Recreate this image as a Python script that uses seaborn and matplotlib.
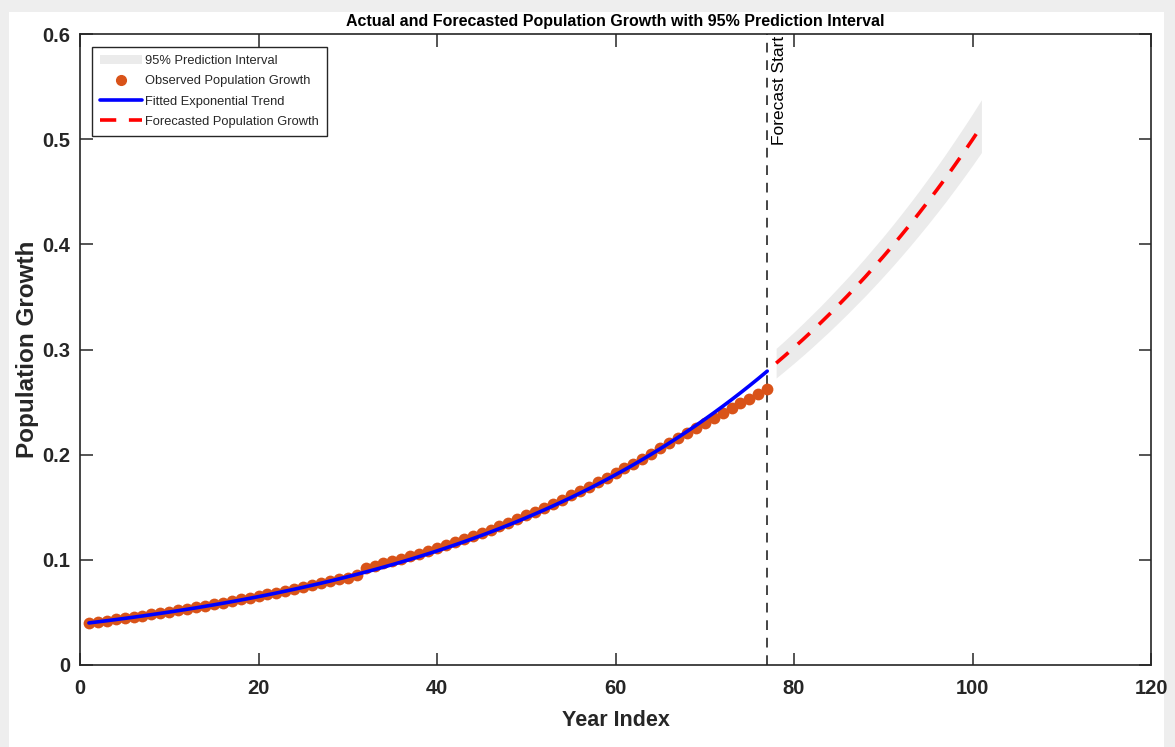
import numpy as np
import pandas as pd
import matplotlib
matplotlib.use("Agg")
import matplotlib.pyplot as plt
from matplotlib.patches import Patch, Rectangle
from matplotlib.lines import Line2D
import seaborn as sns

# ---------------- data ----------------
year_obs = list(range(1, 78))
observed = [0.0402, 0.0412, 0.0423, 0.0434, 0.0446, 0.0457, 0.0469, 0.0482, 0.0494, 0.0507,
            0.0520, 0.0534, 0.0548, 0.0562, 0.0577, 0.0592, 0.0607, 0.0623, 0.0639, 0.0655,
            0.0671, 0.0688, 0.0705, 0.0722, 0.0740, 0.0758, 0.0776, 0.0803, 0.0816, 0.0830,
            0.0852, 0.0924, 0.0945, 0.0966, 0.0989, 0.1011, 0.1035, 0.1059, 0.1084, 0.1110,
            0.1137, 0.1165, 0.1194, 0.1224, 0.1255, 0.1287, 0.1319, 0.1353, 0.1387, 0.1423,
            0.1459, 0.1496, 0.1535, 0.1573, 0.1613, 0.1653, 0.1694, 0.1737, 0.1780, 0.1825,
            0.1870, 0.1916, 0.1963, 0.2011, 0.2060, 0.2110, 0.2160, 0.2210, 0.2257, 0.2303,
            0.2349, 0.2395, 0.2441, 0.2487, 0.2533, 0.2578, 0.2620]
fitted = [0.04000, 0.04104, 0.04210, 0.04319, 0.04431, 0.04546, 0.04664, 0.04785, 0.04909, 0.05036,
          0.05166, 0.05300, 0.05437, 0.05578, 0.05723, 0.05871, 0.06023, 0.06179, 0.06339, 0.06503,
          0.06672, 0.06845, 0.07022, 0.07204, 0.07391, 0.07582, 0.07778, 0.07980, 0.08187, 0.08399,
          0.08616, 0.08840, 0.09069, 0.09304, 0.09545, 0.09792, 0.10046, 0.10306, 0.10573, 0.10847,
          0.11128, 0.11416, 0.11712, 0.12015, 0.12326, 0.12646, 0.12973, 0.13309, 0.13654, 0.14008,
          0.14371, 0.14743, 0.15125, 0.15517, 0.15919, 0.16331, 0.16754, 0.17188, 0.17634, 0.18091,
          0.18559, 0.19040, 0.19533, 0.20039, 0.20558, 0.21091, 0.21637, 0.22198, 0.22773, 0.23363,
          0.23968, 0.24589, 0.25226, 0.25879, 0.26550, 0.27237, 0.27943]
year_fc = list(range(78, 102))
forecast = [0.2870, 0.2943, 0.3018, 0.3095, 0.3174, 0.3255, 0.3338, 0.3424, 0.3511, 0.3601,
            0.3692, 0.3787, 0.3883, 0.3982, 0.4084, 0.4188, 0.4295, 0.4405, 0.4517, 0.4632,
            0.4751, 0.4872, 0.4996, 0.5124]
upper = [0.3011, 0.3087, 0.3166, 0.3247, 0.3330, 0.3414, 0.3502, 0.3592, 0.3683, 0.3777,
         0.3873, 0.3973, 0.4073, 0.4177, 0.4284, 0.4393, 0.4505, 0.4621, 0.4738, 0.4859,
         0.4984, 0.5111, 0.5241, 0.5375]
lower = [0.2729, 0.2799, 0.2870, 0.2943, 0.3018, 0.3096, 0.3174, 0.3256, 0.3339, 0.3425,
         0.3511, 0.3601, 0.3693, 0.3787, 0.3884, 0.3983, 0.4085, 0.4189, 0.4296, 0.4405,
         0.4518, 0.4633, 0.4751, 0.4873]
forecast_start = 77
x_ticks = [0, 20, 40, 60, 80, 100, 120]
y_ticks = [0, 0.1, 0.2, 0.3, 0.4, 0.5, 0.6]
y_tick_labels = ["0", "0.1", "0.2", "0.3", "0.4", "0.5", "0.6"]

df_obs = pd.DataFrame({"year": year_obs, "obs": observed, "fit": fitted})
df_fc = pd.DataFrame({"year": year_fc, "fc": forecast, "lo": lower, "hi": upper})

# ---------------- style ----------------
sns.set_theme(style="white")
FONT = ["Liberation Sans", "DejaVu Sans"]
plt.rcParams["font.family"] = FONT

W, H = 1175, 747
fig = plt.figure(figsize=(W / 100, H / 100), dpi=100, facecolor="#eeeeee")
bg = Rectangle((9 / W, 0), (1164 - 9) / W, (H - 12) / H,
               transform=fig.transFigure, facecolor="white",
               edgecolor="none", zorder=-10)
fig.add_artist(bg)
ax = fig.add_axes([80 / W, 1 - 665 / H, (1151 - 80) / W, (665 - 34) / H])
ax.set_zorder(1)
ax.set_facecolor("white")

band_col = "#ebebeb"
obs_col = "#D95319"

ax.fill_between(df_fc["year"], df_fc["lo"], df_fc["hi"], color=band_col,
                linewidth=0, zorder=1)
sns.scatterplot(data=df_obs, x="year", y="obs", ax=ax, color=obs_col, s=72,
                linewidth=0, zorder=3, legend=False)
sns.lineplot(data=df_obs, x="year", y="fit", ax=ax, color="#0000ff", linewidth=2.6,
             zorder=4, legend=False)
sns.lineplot(data=df_fc, x="year", y="fc", ax=ax, color="#ff0000", linewidth=2.6,
             zorder=4, legend=False)
ax.lines[-1].set_dashes([4.5, 3.5])
ax.axvline(forecast_start, color="#444444", linewidth=1.4, dashes=(5, 4), zorder=2)
ax.text(forecast_start + 0.5, 0.598, "Forecast Start", rotation=90, ha="left", va="top",
        fontsize=12.5, color="black")

ax.set_xlim(0, 120)
ax.set_ylim(0, 0.6)
ax.set_xticks(x_ticks)
ax.set_yticks(y_ticks)
ax.set_xticklabels([str(v) for v in x_ticks])
ax.set_yticklabels(y_tick_labels)
ax.tick_params(direction="in", length=9, width=1.1, color="#262626",
               top=True, right=True, bottom=True, left=True)
ax.tick_params(axis="x", pad=10)
ax.tick_params(axis="y", pad=7)
for lab in ax.get_xticklabels() + ax.get_yticklabels():
    lab.set_fontweight("bold")
    lab.set_fontsize(14.5)
    lab.set_color("#262626")
for sp in ax.spines.values():
    sp.set_visible(True)
    sp.set_color("#262626")
    sp.set_linewidth(1.2)

ax.set_xlabel("Year Index", fontsize=15.5, fontweight="bold",
              color="#262626", labelpad=9)
ax.set_ylabel("Population Growth", fontsize=17.5, fontweight="bold",
              color="#262626")
ax.yaxis.set_label_coords(-0.0385, 0.5)
ax.set_title("Actual and Forecasted Population Growth with 95% Prediction Interval",
             fontsize=11.5, fontweight="bold", color="black", pad=6)

handles = [Patch(facecolor=band_col, edgecolor="none"),
           Line2D([], [], marker="o", linestyle="none", color=obs_col, markersize=7),
           Line2D([], [], color="#0000ff", linewidth=2.6),
           Line2D([], [], color="#ff0000", linewidth=2.6, dashes=(4.5, 3.5))]
labels = ["95% Prediction Interval", "Observed Population Growth",
          "Fitted Exponential Trend", "Forecasted Population Growth"]
leg = ax.legend(handles, labels, loc="upper left", bbox_to_anchor=(0.011, 0.979),
                frameon=True, fancybox=False, edgecolor="#262626", framealpha=1,
                prop={"size": 9.3}, handlelength=3.3,
                handletextpad=0.25, labelspacing=0.64, borderpad=0.6, borderaxespad=0)
leg.get_frame().set_linewidth(1.0)

fig.savefig("out.png", dpi=100, facecolor=fig.get_facecolor())
